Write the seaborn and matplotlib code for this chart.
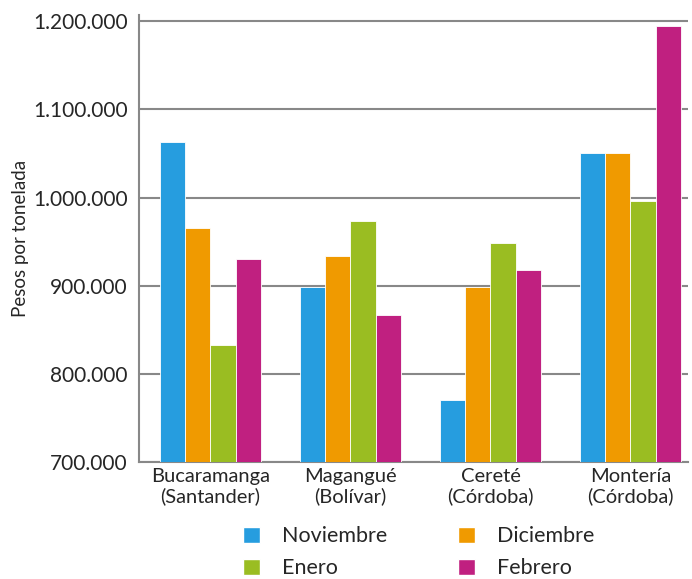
import matplotlib
matplotlib.use('Agg')
import matplotlib.pyplot as plt
import matplotlib.ticker as mticker
from matplotlib.patches import Patch
import pandas as pd
import seaborn as sns

# data
ciudades = ['Bucaramanga\n(Santander)', 'Magangué\n(Bolívar)', 'Cereté\n(Córdoba)', 'Montería\n(Córdoba)']
meses = ['Noviembre', 'Diciembre', 'Enero', 'Febrero']
noviembre = [1063000, 899000, 770000, 1051000]
diciembre = [965000, 934000, 899000, 1051000]
enero = [833000, 973000, 949000, 996000]
febrero = [930000, 867000, 918000, 1195000]
colores = ['#269DDF', '#F09A00', '#9ABD22', '#C02080']

df = pd.DataFrame({'ciudad': ciudades * 4,
                   'mes': [m for m in meses for _ in ciudades],
                   'precio': noviembre + diciembre + enero + febrero})

sns.set_style('white')
plt.rcParams['font.family'] = ['Lato', 'DejaVu Sans']

fig = plt.figure(figsize=(6.92, 5.79), dpi=100)
ax = fig.add_axes([0.201, 0.202, 0.793, 0.772])

sns.barplot(data=df, x='ciudad', y='precio', hue='mes', hue_order=meses,
            palette=colores, width=0.72, edgecolor='white', linewidth=0.6,
            saturation=1, ax=ax, zorder=3)

ax.set_ylim(700000, 1207000)
ax.set_xlim(-0.51, 3.41)
ax.yaxis.set_major_locator(mticker.MultipleLocator(100000))
ax.yaxis.set_major_formatter(mticker.FuncFormatter(lambda v, p: f'{int(v):,}'.replace(',', '.')))
ax.grid(axis='y', color='#888888', linewidth=1.5, zorder=0)
ax.set_axisbelow(True)

for s in ['top', 'right']:
    ax.spines[s].set_visible(False)
for s in ['left', 'bottom']:
    ax.spines[s].set_color('#888888')
    ax.spines[s].set_linewidth(1.5)

ax.tick_params(axis='y', length=6, width=1.5, color='#888888', labelsize=15, pad=2)
ax.tick_params(axis='x', length=0, labelsize=14.5, pad=4)
for t in ax.get_xticklabels():
    t.set_linespacing(1.15)
ax.set_xlabel('')
ax.set_ylabel('Pesos por tonelada', fontsize=13.5, labelpad=3)

ax.get_legend().remove()
orden = [0, 2, 1, 3]
handles = [Patch(facecolor=colores[i], edgecolor='white') for i in orden]
fig.legend(handles, [meses[i] for i in orden], ncol=2, frameon=False,
           loc='center', bbox_to_anchor=(0.605, 0.046), fontsize=15.5,
           handlelength=0.8, handleheight=0.8, columnspacing=3.3,
           handletextpad=1.0, labelspacing=0.55)

fig.savefig('out.png', dpi=100)
